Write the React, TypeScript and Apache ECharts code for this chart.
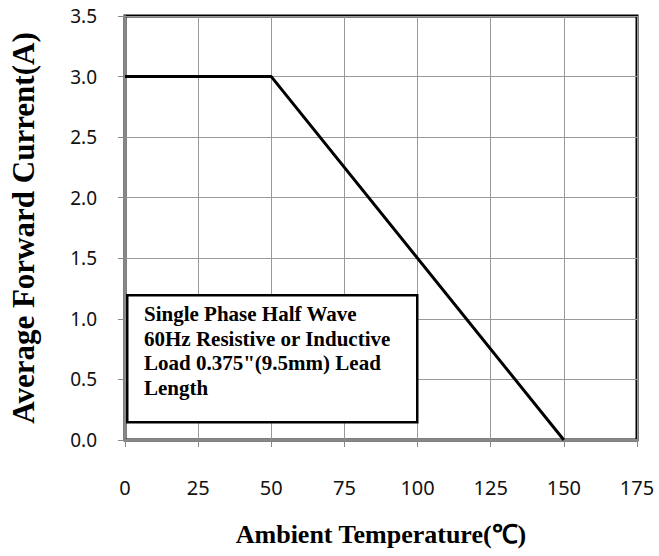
import React, { useEffect, useRef } from "react";
import * as echarts from "echarts";

const xTicks = [0, 25, 50, 75, 100, 125, 150, 175];
const yTicks = ["0.0", "0.5", "1.0", "1.5", "2.0", "2.5", "3.0", "3.5"];
const temperature = [0, 50, 150];
const current = [3.0, 3.0, 0.0];
const noteLines = [
  "Single Phase Half Wave",
  "60Hz Resistive or Inductive",
  "Load 0.375\"(9.5mm) Lead",
  "Length",
];
const xTitle = "Ambient Temperature(℃)";
const yTitle = "Average Forward Current(A)";

export default function App() {
  const ref = useRef<HTMLDivElement>(null);
  useEffect(() => {
    if (!ref.current) return;
    const chart = echarts.init(ref.current, undefined, { renderer: "svg" });
    chart.setOption({
      animation: false,
      backgroundColor: "#fff",
      grid: {
        left: 118,
        top: 16,
        right: 22,
        bottom: 116,
        show: true,
        borderColor: "#000",
        borderWidth: 3,
        backgroundColor: "#fff",
      },
      xAxis: {
        type: "value",
        min: 0,
        max: 175,
        interval: 25,
        name: xTitle,
        nameLocation: "middle",
        nameGap: 81,
        nameTextStyle: {
          fontFamily: "Liberation Serif",
          fontWeight: "bold",
          fontSize: 26,
          color: "#000",
        },
        axisLine: { show: true, onZero: false, lineStyle: { color: "#888", width: 2 } },
        axisTick: { show: true, length: 7, lineStyle: { color: "#888", width: 1 } },
        axisLabel: {
          margin: 37,
          fontFamily: "Noto Sans",
          fontSize: 20,
          color: "#111",
          formatter: (v: number) => (xTicks.includes(v) ? String(v) : ""),
        },
        splitLine: { show: true, lineStyle: { color: "#999", width: 1 } },
      },
      yAxis: {
        type: "value",
        min: 0,
        max: 3.5,
        interval: 0.5,
        name: yTitle,
        nameLocation: "middle",
        nameGap: 86,
        nameRotate: 90,
        nameTextStyle: {
          fontFamily: "Liberation Serif",
          fontWeight: "bold",
          fontSize: 31,
          color: "#000",
        },
        axisLine: { show: true, onZero: false, lineStyle: { color: "#888", width: 2 } },
        axisTick: { show: true, length: 7, lineStyle: { color: "#888", width: 1 } },
        axisLabel: {
          margin: 28,
          fontFamily: "Noto Sans",
          fontSize: 19,
          color: "#111",
          formatter: (v: number) => yTicks[Math.round(v / 0.5)] ?? "",
        },
        splitLine: { show: true, lineStyle: { color: "#999", width: 1 } },
      },
      series: [
        {
          type: "line",
          data: temperature.map((t, i) => [t, current[i]]),
          showSymbol: false,
          lineStyle: { color: "#000", width: 3 },
          z: 3,
        },
      ],
      graphic: [
        {
          type: "rect",
          left: 126,
          top: 294,
          shape: { width: 290, height: 127 },
          style: { fill: "#fff", stroke: "#000", lineWidth: 2.5 },
          z: 10,
        },
        {
          type: "text",
          left: 144,
          top: 302,
          style: {
            text: noteLines.join("\n"),
            font: "bold 21px 'Liberation Serif'",
            lineHeight: 24.5,
            fill: "#000",
          },
          z: 11,
        },
      ],
    });
    return () => chart.dispose();
  }, []);
  return (
    <div
      ref={ref}
      style={{ position: "absolute", left: 0, top: 0, width: 659, height: 556 }}
    />
  );
}
